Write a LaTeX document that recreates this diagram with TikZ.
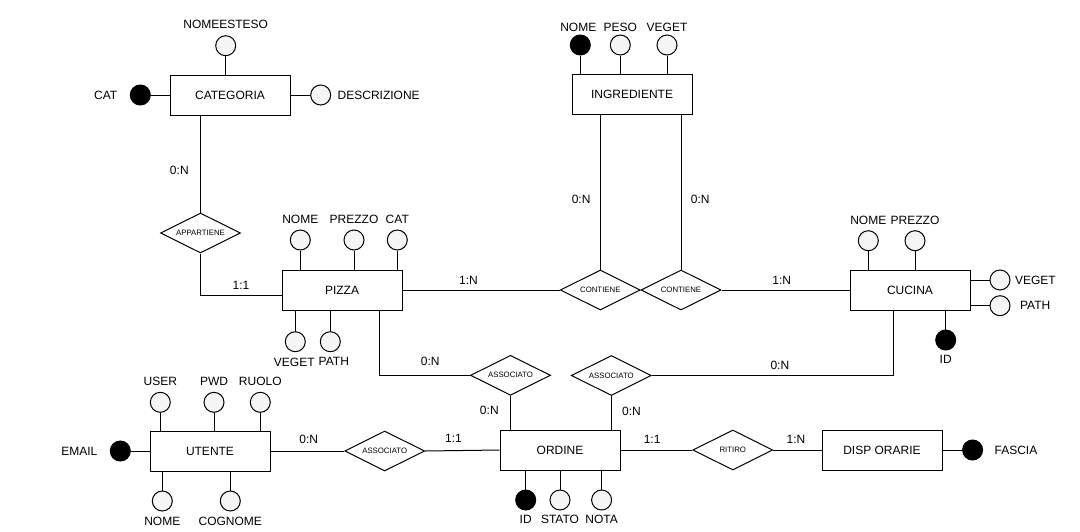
\documentclass[tikz,border=0pt]{standalone}
\usepackage{fontspec}
\setmainfont{Liberation Sans}
\usetikzlibrary{shapes.geometric}
\usetikzlibrary{positioning}
\tikzset{
  entity/.style={draw, line width=1pt, minimum width=120pt, minimum height=40pt, inner sep=0pt, font=\fontsize{12}{14}\selectfont},
  relation/.style={draw, line width=1pt, diamond, aspect=2, minimum width=80pt, minimum height=40pt, inner sep=0pt, font=\fontsize{7.8}{9}\selectfont},
  attr/.style={circle, draw, line width=1pt, fill=black!4, minimum size=20pt, inner sep=0pt},
  key-attr/.style={attr, fill=black},
  attr-label/.style={font=\fontsize{12}{14}\selectfont},
  card/.style={font=\fontsize{12}{14}\selectfont},
  link/.style={line width=1pt},
}
\newcommand{\erattribute}[5][attr]{%
% circle and its label
\node[#1] (#2) at (#3) {};
\node[attr-label, #4 of #2] (#2-label) {#5};
}

\begin{document}
\begin{tikzpicture}[x=1pt, y=-1pt]
\useasboundingbox (0,0) rectangle (1080,531);
% entities
\node[entity] (categoria) at (230,95) {CATEGORIA};
\node[entity] (ingrediente) at (632,94) {INGREDIENTE};
\node[entity] (pizza) at (342,290) {PIZZA};
\node[entity] (cucina) at (910,290) {CUCINA};
\node[entity] (utente) at (210,451) {UTENTE};
\node[entity] (ordine) at (560,450) {ORDINE};
\node[entity] (disp) at (882,450) {DISP ORARIE};
% relations
\node[relation] (appartiene) at (200.5,233) {APPARTIENE};
\node[relation] (cont-pizza) at (600.3,290) {CONTIENE};
\node[relation] (cont-cucina) at (681,290) {CONTIENE};
\node[relation] (ass-pizza) at (510.5,375.3) {ASSOCIATO};
\node[relation] (ass-cucina) at (611.3,375.5) {ASSOCIATO};
\node[relation] (ass-utente) at (384.7,451) {ASSOCIATO};
\node[relation] (ritiro) at (732.8,450) {RITIRO};
% attributes
\erattribute{cat-nomeesteso}{225.7,45.7}{above=3pt}{NOMEESTESO}
\erattribute[key-attr]{cat-cat}{140.3,95}{left=9pt}{CAT}
\erattribute{cat-descrizione}{320.7,95}{right=3pt}{DESCRIZIONE}
\erattribute[key-attr]{ing-nome}{580.3,45}{xshift=-2pt, above=-1pt}{NOME}
\erattribute{ing-peso}{620.3,45}{above=-1pt}{PESO}
\erattribute{ing-veget}{667,45}{above=-1pt}{VEGET}
\erattribute{piz-nome}{300.3,240}{above=2pt}{NOME}
\erattribute{piz-prezzo}{354,240}{above=2pt}{PREZZO}
\erattribute{piz-cat}{397.3,240}{above=2pt}{CAT}
\erattribute{piz-veget}{295.3,341.7}{xshift=-1pt, below=2pt}{VEGET}
\erattribute{piz-path}{330.3,341.7}{xshift=3.5pt, below=2pt}{PATH}
\erattribute{cuc-nome}{868.3,240.7}{above=2pt}{NOME}
\erattribute{cuc-prezzo}{915,240.7}{above=2pt}{PREZZO}
\erattribute{cuc-veget}{1000,280}{right=1pt}{VEGET}
\erattribute{cuc-path}{1000,305.7}{right=6pt}{PATH}
\erattribute[key-attr]{cuc-id}{945.7,340}{below=1pt}{ID}
\erattribute{ute-user}{160.3,402.3}{above=3pt}{USER}
\erattribute{ute-pwd}{214,402.3}{above=3pt}{PWD}
\erattribute{ute-ruolo}{260.3,402.3}{above=3pt}{RUOLO}
\erattribute[key-attr]{ute-email}{120.3,451}{left=9pt}{EMAIL}
\erattribute{ute-nome}{162.3,501}{below=2pt}{NOME}
\erattribute{ute-cognome}{230.3,501}{below=2pt}{COGNOME}
\erattribute[key-attr]{ord-id}{525.7,500}{below=1.5pt}{ID}
\erattribute{ord-stato}{560,500}{below=1.5pt}{STATO}
\erattribute{ord-nota}{601.6,500}{below=1.5pt}{NOTA}
\erattribute[key-attr]{dis-fascia}{972.6,450}{right=8pt}{FASCIA}
% attribute links
\foreach \a/\e in {cat-nomeesteso/categoria.north, ing-nome/ingrediente.north, ing-peso/ingrediente.north, ing-veget/ingrediente.north,
  piz-nome/pizza.north, piz-prezzo/pizza.north, piz-cat/pizza.north, piz-veget/pizza.south, piz-path/pizza.south,
  cuc-nome/cucina.north, cuc-prezzo/cucina.north, cuc-id/cucina.south,
  ute-user/utente.north, ute-pwd/utente.north, ute-ruolo/utente.north, ute-nome/utente.south, ute-cognome/utente.south,
  ord-id/ordine.south, ord-stato/ordine.south, ord-nota/ordine.south}
  \draw[link] (\a) -- (\a |- \e);
\foreach \a/\e in {cat-cat/categoria.west, cat-descrizione/categoria.east, cuc-veget/cucina.east, cuc-path/cucina.east,
  ute-email/utente.west, dis-fascia/disp.east}
  \draw[link] (\a) -- (\a -| \e);
% relation links
\draw[link] (categoria.south -| appartiene) -- (appartiene.north) node[card, pos=0.57, left=8pt] (card-cat-app) {0:N};
\draw[link] (appartiene.south) |- ([yshift=-5pt]pizza.west) node[card, pos=0.75, above=1.5pt] (card-app-piz) {1:1};
\draw[link] (pizza.east) -- (cont-pizza.west) node[card, pos=0.42, above=2pt] (card-piz-cont) {1:N};
\draw[link] (cont-pizza.north) -- (cont-pizza.north |- ingrediente.south) node[card, pos=0.45, left=6pt] (card-ing-cont1) {0:N};
\draw[link] (cont-cucina.north) -- (cont-cucina.north |- ingrediente.south) node[card, pos=0.45, right=6pt] (card-ing-cont2) {0:N};
\draw[link] (cont-cucina.east) -- (cucina.west) node[card, pos=0.47, above=2pt] (card-cont-cuc) {1:N};
\draw[link] ([xshift=98pt]pizza.south west) |- (ass-pizza.west) node[card, pos=0.78, above=6pt] (card-piz-ass) {0:N};
\draw[link] (ass-pizza.south) -- (ass-pizza.south |- ordine.north) node[card, pos=0.42, left=8pt] (card-ass-ord1) {0:N};
\draw[link] (ass-cucina.east) -| ([xshift=44pt]cucina.south west) node[card, pos=0.265, above=2pt] (card-cuc-ass) {0:N};
\draw[link] (ass-cucina.south) -- (ass-cucina.south |- ordine.north) node[card, pos=0.45, right=7pt] (card-ass-ord2) {0:N};
\draw[link] (utente.east) -- (ass-utente.west) node[card, pos=0.52, above=4pt] (card-ute-ass) {0:N};
\draw[link] (ass-utente.east) -- (ordine.west) node[card, pos=0.38, above=4pt] (card-ass-ord3) {1:1};
\draw[link] (ordine.east) -- (ritiro.west) node[card, pos=0.44, above=3pt] (card-ord-rit) {1:1};
\draw[link] (ritiro.east) -- (disp.west) node[card, pos=0.47, above=3pt] (card-rit-dis) {1:N};
\end{tikzpicture}
\end{document}
